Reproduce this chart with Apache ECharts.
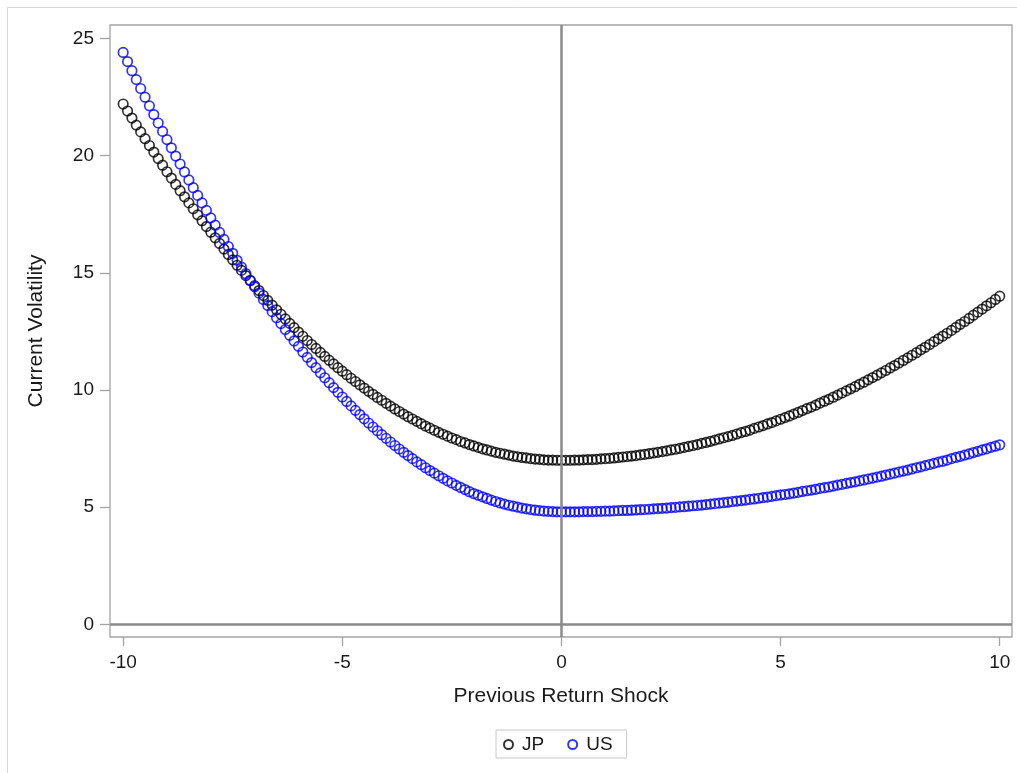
<!DOCTYPE html>
<html lang="en">
<head>
	<meta charset="UTF-8">
	<title>News impact curve</title>
	<style>
		html, body { margin: 0; padding: 0; background: #fff; }
		#main { width: 1017px; height: 773px; }
	</style>
</head>
<body>
	<div id="main"></div>
	<script src="https://cdn.jsdelivr.net/npm/echarts@6/dist/echarts.min.js"></script>
	<script>
		// previous return shock (x), step 0.1
		var shock = [
			-10.0, -9.9, -9.8, -9.7, -9.6, -9.5, -9.4, -9.3, -9.2, -9.1,
			-9.0, -8.9, -8.8, -8.7, -8.6, -8.5, -8.4, -8.3, -8.2, -8.1,
			-8.0, -7.9, -7.8, -7.7, -7.6, -7.5, -7.4, -7.3, -7.2, -7.1,
			-7.0, -6.9, -6.8, -6.7, -6.6, -6.5, -6.4, -6.3, -6.2, -6.1,
			-6.0, -5.9, -5.8, -5.7, -5.6, -5.5, -5.4, -5.3, -5.2, -5.1,
			-5.0, -4.9, -4.8, -4.7, -4.6, -4.5, -4.4, -4.3, -4.2, -4.1,
			-4.0, -3.9, -3.8, -3.7, -3.6, -3.5, -3.4, -3.3, -3.2, -3.1,
			-3.0, -2.9, -2.8, -2.7, -2.6, -2.5, -2.4, -2.3, -2.2, -2.1,
			-2.0, -1.9, -1.8, -1.7, -1.6, -1.5, -1.4, -1.3, -1.2, -1.1,
			-1.0, -0.9, -0.8, -0.7, -0.6, -0.5, -0.4, -0.3, -0.2, -0.1,
			0.0, 0.1, 0.2, 0.3, 0.4, 0.5, 0.6, 0.7, 0.8, 0.9,
			1.0, 1.1, 1.2, 1.3, 1.4, 1.5, 1.6, 1.7, 1.8, 1.9,
			2.0, 2.1, 2.2, 2.3, 2.4, 2.5, 2.6, 2.7, 2.8, 2.9,
			3.0, 3.1, 3.2, 3.3, 3.4, 3.5, 3.6, 3.7, 3.8, 3.9,
			4.0, 4.1, 4.2, 4.3, 4.4, 4.5, 4.6, 4.7, 4.8, 4.9,
			5.0, 5.1, 5.2, 5.3, 5.4, 5.5, 5.6, 5.7, 5.8, 5.9,
			6.0, 6.1, 6.2, 6.3, 6.4, 6.5, 6.6, 6.7, 6.8, 6.9,
			7.0, 7.1, 7.2, 7.3, 7.4, 7.5, 7.6, 7.7, 7.8, 7.9,
			8.0, 8.1, 8.2, 8.3, 8.4, 8.5, 8.6, 8.7, 8.8, 8.9,
			9.0, 9.1, 9.2, 9.3, 9.4, 9.5, 9.6, 9.7, 9.8, 9.9,
			10.0
		];

		// current volatility, JP
		var jpVol = [
			22.20, 21.90, 21.60, 21.30, 21.01, 20.72, 20.43, 20.15, 19.87, 19.59,
			19.31, 19.04, 18.77, 18.50, 18.24, 17.98, 17.73, 17.47, 17.22, 16.97,
			16.73, 16.49, 16.25, 16.01, 15.78, 15.55, 15.32, 15.10, 14.88, 14.66,
			14.45, 14.24, 14.03, 13.82, 13.62, 13.42, 13.23, 13.03, 12.84, 12.66,
			12.47, 12.29, 12.11, 11.94, 11.77, 11.60, 11.43, 11.27, 11.11, 10.95,
			10.80, 10.65, 10.50, 10.36, 10.22, 10.08, 9.94, 9.81, 9.68, 9.56,
			9.43, 9.31, 9.19, 9.08, 8.97, 8.86, 8.76, 8.66, 8.56, 8.46,
			8.37, 8.28, 8.19, 8.11, 8.03, 7.95, 7.88, 7.80, 7.74, 7.67,
			7.61, 7.55, 7.49, 7.44, 7.39, 7.34, 7.30, 7.26, 7.22, 7.18,
			7.15, 7.12, 7.10, 7.07, 7.05, 7.04, 7.02, 7.01, 7.01, 7.00,
			7.00, 7.00, 7.00, 7.01, 7.01, 7.02, 7.03, 7.03, 7.04, 7.06,
			7.07, 7.08, 7.10, 7.12, 7.14, 7.16, 7.18, 7.20, 7.23, 7.25,
			7.28, 7.31, 7.34, 7.37, 7.40, 7.44, 7.47, 7.51, 7.55, 7.59,
			7.63, 7.67, 7.72, 7.76, 7.81, 7.86, 7.91, 7.96, 8.01, 8.06,
			8.12, 8.18, 8.23, 8.29, 8.36, 8.42, 8.48, 8.55, 8.61, 8.68,
			8.75, 8.82, 8.89, 8.97, 9.04, 9.12, 9.20, 9.27, 9.35, 9.44,
			9.52, 9.60, 9.69, 9.78, 9.87, 9.96, 10.05, 10.14, 10.24, 10.33,
			10.43, 10.53, 10.63, 10.73, 10.83, 10.94, 11.04, 11.15, 11.26, 11.37,
			11.48, 11.59, 11.71, 11.82, 11.94, 12.06, 12.18, 12.30, 12.42, 12.54,
			12.67, 12.80, 12.92, 13.05, 13.19, 13.32, 13.45, 13.59, 13.72, 13.86,
			14.00
		];

		// current volatility, US
		var usVol = [
			24.40, 24.01, 23.62, 23.24, 22.86, 22.49, 22.12, 21.75, 21.39, 21.03,
			20.68, 20.33, 19.98, 19.64, 19.30, 18.96, 18.63, 18.30, 17.98, 17.66,
			17.34, 17.03, 16.72, 16.42, 16.12, 15.83, 15.53, 15.24, 14.96, 14.68,
			14.40, 14.13, 13.86, 13.60, 13.34, 13.08, 12.83, 12.58, 12.33, 12.09,
			11.86, 11.62, 11.39, 11.17, 10.95, 10.73, 10.52, 10.31, 10.10, 9.90,
			9.70, 9.51, 9.32, 9.13, 8.95, 8.77, 8.59, 8.42, 8.26, 8.09,
			7.94, 7.78, 7.63, 7.48, 7.34, 7.20, 7.07, 6.93, 6.81, 6.68,
			6.56, 6.45, 6.34, 6.23, 6.12, 6.03, 5.93, 5.84, 5.75, 5.66,
			5.58, 5.51, 5.44, 5.37, 5.30, 5.24, 5.18, 5.13, 5.08, 5.04,
			5.00, 4.96, 4.93, 4.90, 4.87, 4.85, 4.83, 4.82, 4.81, 4.80,
			4.80, 4.80, 4.80, 4.80, 4.80, 4.81, 4.81, 4.81, 4.82, 4.82,
			4.83, 4.83, 4.84, 4.85, 4.86, 4.86, 4.87, 4.88, 4.89, 4.90,
			4.91, 4.93, 4.94, 4.95, 4.96, 4.98, 4.99, 5.01, 5.02, 5.04,
			5.06, 5.07, 5.09, 5.11, 5.13, 5.15, 5.17, 5.19, 5.21, 5.24,
			5.26, 5.28, 5.30, 5.33, 5.35, 5.38, 5.41, 5.43, 5.46, 5.49,
			5.52, 5.54, 5.57, 5.60, 5.63, 5.67, 5.70, 5.73, 5.76, 5.80,
			5.83, 5.86, 5.90, 5.94, 5.97, 6.01, 6.05, 6.08, 6.12, 6.16,
			6.20, 6.24, 6.28, 6.32, 6.37, 6.41, 6.45, 6.50, 6.54, 6.58,
			6.63, 6.68, 6.72, 6.77, 6.82, 6.87, 6.92, 6.96, 7.01, 7.07,
			7.12, 7.17, 7.22, 7.27, 7.33, 7.38, 7.44, 7.49, 7.55, 7.60,
			7.66
		];

		var xTicks = [-10, -5, 0, 5, 10];
		var yTicks = [0, 5, 10, 15, 20, 25];

		var fontFam = '"Liberation Sans", Arial, sans-serif';

		function pairs(ys) {
			return shock.map(function (x, i) { return [x, ys[i]]; });
		}

		var myChart = echarts.init(document.getElementById('main'));
		var option = {
			animation: false,
			backgroundColor: '#fff',
			graphic: [{
				type: 'rect',
				shape: { x: 7.5, y: 7.5, width: 1100, height: 1000 },
				style: { fill: 'none', stroke: '#d9d9d9', lineWidth: 1 },
				silent: true
			}],
			legend: {
				data: ['JP', 'US'],
				left: 496,
				top: 730,
				orient: 'horizontal',
				itemWidth: 17,
				itemHeight: 9,
				itemGap: 23,
				padding: [5, 14, 4, 7],
				borderColor: '#c8c8c8',
				borderWidth: 1,
				textStyle: { fontFamily: fontFam, fontSize: 19, color: '#1a1a1a' }
			},
			grid: {
				left: 110,
				top: 25,
				right: 5,
				bottom: 136,
				show: true,
				borderColor: '#a4a4a4',
				borderWidth: 1.3,
				containLabel: false
			},
			xAxis: {
				type: 'value',
				min: -10.3,
				max: 10.28,
				name: 'Previous Return Shock',
				nameLocation: 'middle',
				nameGap: 49,
				nameTextStyle: { fontFamily: fontFam, fontSize: 21, color: '#1a1a1a' },
				axisLine: { show: false, onZero: false },
				axisTick: {
					show: true,
					inside: false,
					customValues: xTicks,
					length: 9,
					lineStyle: { color: '#a4a4a4', width: 1.3 }
				},
				axisLabel: {
					customValues: xTicks,
					margin: 16,
					fontFamily: fontFam,
					fontSize: 19,
					color: '#1a1a1a'
				},
				splitLine: { show: false }
			},
			yAxis: {
				type: 'value',
				min: -0.54,
				max: 25.57,
				name: 'Current Volatility',
				nameLocation: 'middle',
				nameGap: 63,
				nameTextStyle: { fontFamily: fontFam, fontSize: 21, color: '#1a1a1a' },
				axisLine: { show: false, onZero: false },
				axisTick: {
					show: true,
					inside: false,
					customValues: yTicks,
					length: 10,
					lineStyle: { color: '#a4a4a4', width: 1.3 }
				},
				axisLabel: {
					customValues: yTicks,
					margin: 16,
					fontFamily: fontFam,
					fontSize: 19,
					color: '#1a1a1a'
				},
				splitLine: { show: false }
			},
			series: [
				{
					name: 'JP',
					type: 'scatter',
					symbol: 'circle',
					symbolSize: 9.5,
					itemStyle: { color: 'rgba(0,0,0,0)', borderColor: '#000000', borderWidth: 1.7 },
					emphasis: { disabled: true },
					data: pairs(jpVol)
				},
				{
					name: 'US',
					type: 'scatter',
					symbol: 'circle',
					symbolSize: 9.5,
					itemStyle: { color: 'rgba(0,0,0,0)', borderColor: '#0000ff', borderWidth: 1.7 },
					emphasis: { disabled: true },
					data: pairs(usVol)
				},
				{
					// reference lines at x = 0 and y = 0
					name: 'ref',
					type: 'scatter',
					data: [],
					z: 5,
					markLine: {
						silent: true,
						symbol: 'none',
						label: { show: false },
						lineStyle: { color: '#8a8a8a', width: 2.5, type: 'solid' },
						data: [{ xAxis: 0 }, { yAxis: 0 }]
					}
				}
			]
		};

		myChart.setOption(option);
	</script>
</body>
</html>
